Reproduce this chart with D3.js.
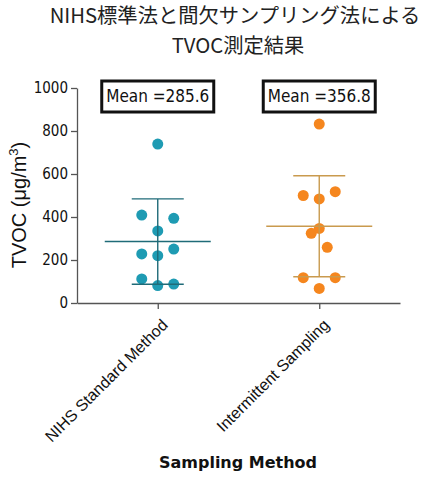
<!DOCTYPE html>
<meta charset="utf-8">
<style>
body { margin: 0; background: #fff; }
.axis path, .axis line { stroke: #555; stroke-width: 1.3px; }
.axis text { font-family: "DejaVu Sans Condensed", "DejaVu Sans", sans-serif; font-size: 15px; fill: #111; }
</style>
<body>
<script src="https://d3js.org/d3.v7.min.js"></script>
<script>

// data
var groups = ["NIHS Standard Method", "Intermittent Sampling"];
var nihsValues = [739, 409, 394, 335, 228, 251, 220, 112, 81, 88];
var nihsSlots  = [0, -1, 1, 0, -1, 1, 0, -1, 0, 1];   // jitter column of each dot
var interValues = [832, 500, 484, 518, 347, 324, 259, 118, 118, 68];
var interSlots  = [0, -1, 0, 1, 0, -0.5, 0.5, -1, 1, 0];
var yTicks = [0, 200, 400, 600, 800, 1000];
var meanLabels = ["Mean =285.6", "Mean =356.8"];
var dotColors = ["#1e9bb3", "#f5861e"];
var barColors = ["#1f6b78", "#c99a4e"];

var margin = {top: 88, right: 25, bottom: 176, left: 77},
    width = 425 - margin.left - margin.right,
    height = 479 - margin.top - margin.bottom;

var svg = d3.select("body").append("svg")
    .attr("width", 425)
    .attr("height", 479);

var g = svg.append("g")
    .attr("transform", "translate(" + margin.left + "," + margin.top + ")");

var x = d3.scalePoint().domain(groups).range([0, width]).padding(0.5);
var y = d3.scaleLinear().domain([0, 1000]).range([height, 0]);

// title, two lines
svg.append("text")
    .attr("x", 235).attr("y", 23)
    .attr("text-anchor", "middle")
    .style("font-family", "'Noto Sans CJK JP', sans-serif")
    .style("font-size", "20.3px")
    .style("fill", "#222")
    .text("NIHS標準法と間欠サンプリング法による");
svg.append("text")
    .attr("x", 238).attr("y", 52.6)
    .attr("text-anchor", "middle")
    .style("font-family", "'Noto Sans CJK JP', sans-serif")
    .style("font-size", "20.3px")
    .style("fill", "#222")
    .text("TVOC測定結果");

// y axis
g.append("g")
    .attr("class", "axis")
    .call(d3.axisLeft(y).tickValues(yTicks).tickFormat(d3.format("d"))
      .tickSize(6).tickSizeOuter(0).tickPadding(3));

// x axis
var xAxis = g.append("g")
    .attr("class", "axis")
    .attr("transform", "translate(0," + height + ")")
    .call(d3.axisBottom(x).tickSize(6).tickSizeOuter(0));

xAxis.selectAll("text")
    .style("font-family", "'Liberation Sans', Arial, sans-serif")
    .style("font-size", "16px")
    .style("text-anchor", "end")
    .attr("dx", "-0.2em")
    .attr("dy", "1.0em")
    .attr("transform", "translate(-5,3) rotate(-45)");

// y label
svg.append("text")
    .attr("transform", "translate(26,205) rotate(-90)")
    .attr("text-anchor", "middle")
    .style("font-family", "'Liberation Sans', Arial, sans-serif")
    .style("font-size", "20px")
    .style("fill", "#111")
    .html('TVOC (μg/m<tspan dy="-8" font-size="13px">3</tspan><tspan dy="8">)</tspan>');

// x label
svg.append("text")
    .attr("x", 238)
    .attr("y", 468)
    .attr("text-anchor", "middle")
    .style("font-family", "'DejaVu Sans', sans-serif")
    .style("font-weight", "bold")
    .style("font-size", "16px")
    .style("fill", "#111")
    .text("Sampling Method");

var series = [
  {name: groups[0], values: nihsValues, slots: nihsSlots},
  {name: groups[1], values: interValues, slots: interSlots}
];

series.forEach(function(s, i) {
  var cx = x(s.name);
  var m = d3.mean(s.values), sd = d3.deviation(s.values);

  // dots
  g.selectAll(".dot" + i)
    .data(s.values)
    .enter().append("circle")
    .attr("cx", function(d, j) { return cx + s.slots[j] * 16; })
    .attr("cy", function(d) { return y(d); })
    .attr("r", 5.5)
    .style("fill", dotColors[i]);

  // mean and SD bars
  var bars = g.append("g").style("stroke", barColors[i]).style("stroke-width", 1.4);
  bars.append("line").attr("x1", cx - 53).attr("x2", cx + 53).attr("y1", y(m)).attr("y2", y(m));
  bars.append("line").attr("x1", cx).attr("x2", cx).attr("y1", y(m + sd)).attr("y2", y(m - sd));
  bars.append("line").attr("x1", cx - 26).attr("x2", cx + 26).attr("y1", y(m + sd)).attr("y2", y(m + sd));
  bars.append("line").attr("x1", cx - 26).attr("x2", cx + 26).attr("y1", y(m - sd)).attr("y2", y(m - sd));

  // mean label box
  var box = g.append("g").attr("transform", "translate(" + cx + "," + 8 + ")");
  box.append("rect")
    .attr("x", -56).attr("y", -15)
    .attr("width", 112).attr("height", 31)
    .style("fill", "#fff")
    .style("stroke", "#111")
    .style("stroke-width", 3);
  box.append("text")
    .attr("text-anchor", "middle")
    .attr("dy", "0.36em")
    .style("font-family", "'DejaVu Sans Condensed', 'DejaVu Sans', sans-serif")
    .style("font-size", "17px")
    .style("fill", "#111")
    .text(meanLabels[i]);
});

</script>
</body>
